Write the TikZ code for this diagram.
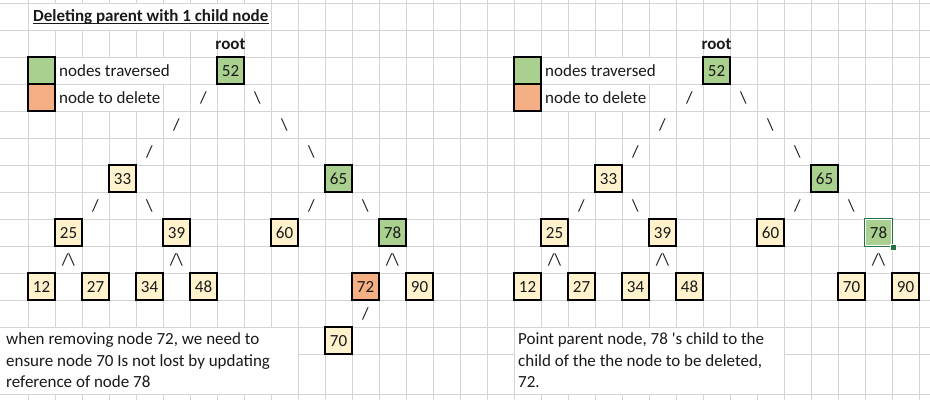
\documentclass[tikz,border=0pt]{standalone}
\usepackage{fontspec}
\setmainfont{Carlito}
\definecolor{gridc}{HTML}{D4D4D4}
\definecolor{cream}{HTML}{FFF2CC}
\definecolor{travg}{HTML}{A9D08E}
\definecolor{delo}{HTML}{F4B084}
\definecolor{selg}{HTML}{217346}
\definecolor{txt}{HTML}{1A1A1A}
\newcommand\bsl{\textbackslash}
\tikzset{
  celltext/.style={inner sep=0pt, minimum width=27pt, minimum height=27pt, text height=15pt, text depth=4pt, font=\fontsize{17}{20}\selectfont, text=txt},
  cellbox/.style={celltext, draw=black, line width=2.6pt},
  slashtext/.style={celltext},
  plaintext/.style={inner sep=0pt, anchor=base west, font=\fontsize{17}{20}\selectfont, text=txt},
  gridline/.style={draw=gridc, line width=1pt},
}
\begin{document}
\begin{tikzpicture}[x=1pt,y=-1pt]
\useasboundingbox (0,0) rectangle (930,400);
\fill[white] (0,0) rectangle (930,400);
% grid
\foreach \i in {0,...,33} \draw[gridline] ({28+27*\i},0) -- ({28+27*\i},400);
\foreach \y in {3,30,...,354} \draw[gridline] (0,\y) -- (930,\y);
\draw[gridline] (0,394) -- (930,394);
% areas where overflowing text hides the grid
\fill[white] (28.5,3.5) rectangle (270.5,29.5);
\fill[white] (55.5,57.5) rectangle (189.5,83.5);
\fill[white] (55.5,84.5) rectangle (162.5,110.5);
\fill[white] (541.5,57.5) rectangle (675.5,83.5);
\fill[white] (541.5,84.5) rectangle (648.5,110.5);
\fill[white] (0,327.5) rectangle (297.5,393.5);
\fill[white] (514.5,327.5) rectangle (783.5,393.5);
% title
\node[plaintext, font=\fontsize{17}{20}\selectfont\bfseries] (title) at (33,21) {Deleting parent with 1 child node};
\draw[line width=1.3pt, txt] ([yshift=-2.6pt]title.base west) -- ([yshift=-2.6pt]title.base east);
% ---------- left diagram ----------
\node[cellbox, fill=travg] (lg1) at ({41.5+27*0},{16.5+27*2}) {};
\node[cellbox, fill=delo] (lo1) at ({41.5+27*0},{16.5+27*3}) {};
\node[plaintext] (lt1) at (59,76) {nodes traversed};
\node[plaintext] (lt2) at (59,103) {node to delete};
\node[celltext, font=\fontsize{17}{20}\selectfont\bfseries] (root1) at ({41.5+27*7},{16.5+27*1}) {root};
\foreach \n/\c/\r/\f/\t in {
  a52/7/2/travg/52, a33/3/6/cream/33, a65/11/6/travg/65,
  a25/1/8/cream/25, a39/5/8/cream/39, a60/9/8/cream/60, a78/13/8/travg/78,
  a12/0/10/cream/12, a27/2/10/cream/27, a34/4/10/cream/34, a48/6/10/cream/48,
  a72/12/10/delo/72, a90/14/10/cream/90, a70/11/12/cream/70}
  \node[cellbox, fill=\f] (\n) at ({41.5+27*\c},{16.5+27*\r}) {\t};
\foreach \n/\c/\r/\t in {
  as1/6/3/{/}, as2/8/3/{\bsl}, as3/5/4/{/}, as4/9/4/{\bsl}, as5/4/5/{/}, as6/10/5/{\bsl},
  as7/2/7/{/}, as8/4/7/{\bsl}, as9/10/7/{/}, as10/12/7/{\bsl},
  as11/1/9/{/\bsl}, as12/5/9/{/\bsl}, as13/13/9/{/\bsl}, as14/12/11/{/}}
  \node[slashtext] (\n) at ({41.5+27*\c},{16.5+27*\r}) {\t};
\node[plaintext] (lp1) at (6,344) {when removing node 72, we need to};
\node[plaintext] (lp2) at (6,366) {ensure node 70 Is not lost by updating};
\node[plaintext] (lp3) at (6,387) {reference of node 78};
% ---------- right diagram ----------
\node[cellbox, fill=travg] (lg2) at ({41.5+27*18},{16.5+27*2}) {};
\node[cellbox, fill=delo] (lo2) at ({41.5+27*18},{16.5+27*3}) {};
\node[plaintext] (rt1) at (545,76) {nodes traversed};
\node[plaintext] (rt2) at (545,103) {node to delete};
\node[celltext, font=\fontsize{17}{20}\selectfont\bfseries] (root2) at ({41.5+27*25},{16.5+27*1}) {root};
\foreach \n/\c/\r/\f/\t in {
  b52/25/2/travg/52, b33/21/6/cream/33, b65/29/6/travg/65,
  b25/19/8/cream/25, b39/23/8/cream/39, b60/27/8/cream/60,
  b12/18/10/cream/12, b27/20/10/cream/27, b34/22/10/cream/34, b48/24/10/cream/48,
  b70/30/10/cream/70, b90/32/10/cream/90}
  \node[cellbox, fill=\f] (\n) at ({41.5+27*\c},{16.5+27*\r}) {\t};
\node[celltext, fill=travg, draw=selg, line width=2.2pt] (b78) at ({41.5+27*31},{16.5+27*8}) {78};
\draw[white, line width=0.7pt] ([shift={(1.8pt,-1.8pt)}]b78.north west) rectangle ([shift={(-1.8pt,1.8pt)}]b78.south east);
\node[fill=selg, draw=white, line width=0.8pt, minimum size=6pt, inner sep=0pt] (hnd) at (b78.south east) {};
\foreach \n/\c/\r/\t in {
  bs1/24/3/{/}, bs2/26/3/{\bsl}, bs3/23/4/{/}, bs4/27/4/{\bsl}, bs5/22/5/{/}, bs6/28/5/{\bsl},
  bs7/20/7/{/}, bs8/22/7/{\bsl}, bs9/28/7/{/}, bs10/30/7/{\bsl},
  bs11/19/9/{/\bsl}, bs12/23/9/{/\bsl}, bs13/31/9/{/\bsl}}
  \node[slashtext] (\n) at ({41.5+27*\c},{16.5+27*\r}) {\t};
\node[plaintext] (rp1) at (518,344) {Point parent node, 78 \textquotesingle s child to the};
\node[plaintext] (rp2) at (518,366) {child of the the node to be deleted,};
\node[plaintext] (rp3) at (518,387) {72.};
\end{tikzpicture}
\end{document}
